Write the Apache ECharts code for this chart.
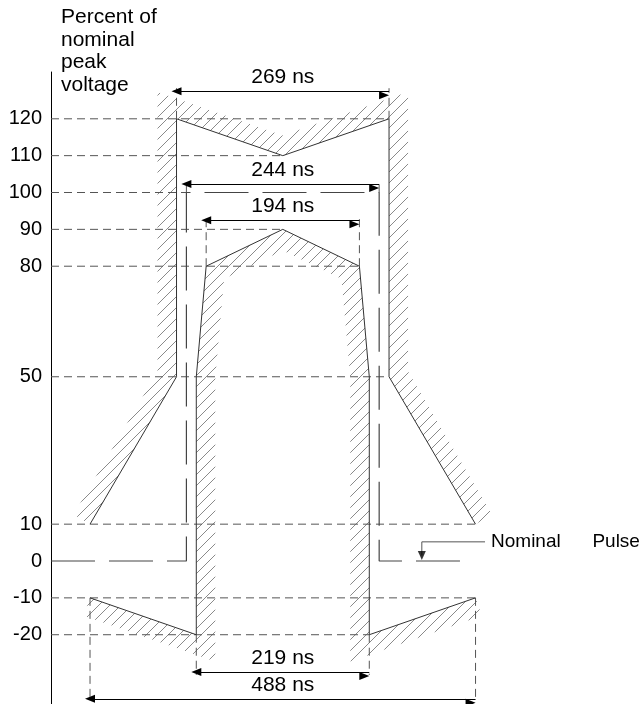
<!DOCTYPE html>
<html><head><meta charset="utf-8">
<script src="https://cdn.jsdelivr.net/npm/echarts@6/dist/echarts.min.js"></script>
<style>html,body{margin:0;padding:0;background:#fff}#c{width:642px;height:704px}</style>
</head><body><div id="c"></div>
<script>
// ---- data (time in ns, centred on the pulse; amplitude in % of nominal peak) ----
const yTickValues = [120, 110, 100, 90, 80, 50, 10, 0, -10, -20];
const dimLabels = ['269 ns', '244 ns', '194 ns', '219 ns', '488 ns'];
const dimWidths = [269, 244, 194, 219, 488];
const dimLevels = [127.5, 102.3, 92.5, -30.1, -37.4];
const extFrom = [120, 100, 80, -20, -10];
const upperT = [-244, -134.5, -134.5, 0, 134.5, 134.5, 244];
const upperV = [10, 50, 120, 110, 120, 50, 10];
const lowerT = [-244, -109.5, -109.5, -97, 0, 97, 109.5, 109.5, 244];
const lowerV = [-10, -20, 50, 80, 90, 80, 50, -20, -10];
const pulseT = [-293.4, -122, -122, 122, 122, 232];
const pulseV = [0, 0, 100, 100, 0, 0];
const guideLevels = [120, 110, 100, 90, 80, 50, 10, -10, -20];
const guideEnds = [134.5, 0, -122, 0, 97, 134.5, 244, 244, 109.5];
const leaderT = [256, 176, 176];
const leaderV = [5.2, 5.2, 1.5];
const pulseLabel = 'Nominal      Pulse';
const yTitle = 'Percent of\nnominal\npeak\nvoltage';
const xRange = [-293.4, 454.7];
const yRange = [-38.8, 132.7];

const FONT = 'Liberation Sans, Arial, Helvetica, sans-serif';

function makeHatch() {
  const s = 11, c = document.createElement('canvas');
  c.width = s; c.height = s;
  const g = c.getContext('2d');
  g.strokeStyle = '#8a8a8a'; g.lineWidth = 1;
  g.beginPath();
  g.moveTo(0, s); g.lineTo(s, 0);
  g.moveTo(-2, 2); g.lineTo(2, -2);
  g.moveTo(s - 2, s + 2); g.lineTo(s + 2, s - 2);
  g.stroke();
  return c;
}
const hatch = makeHatch();

function offsetLine(pts, side, w) {
  const n = [];
  for (let i = 0; i < pts.length - 1; i++) {
    const dx = pts[i + 1][0] - pts[i][0], dy = pts[i + 1][1] - pts[i][1];
    const L = Math.hypot(dx, dy) || 1;
    n.push([side * dy / L, -side * dx / L]);
  }
  return pts.map((p, j) => {
    let m, k = w;
    if (j === 0) m = n[0];
    else if (j === pts.length - 1) m = n[n.length - 1];
    else {
      const a = n[j - 1], b = n[j];
      const mx = a[0] + b[0], my = a[1] + b[1];
      const L = Math.hypot(mx, my) || 1;
      m = [mx / L, my / L];
      const d = m[0] * b[0] + m[1] * b[1];
      k = w / Math.max(d, 0.3);
    }
    return [p[0] + m[0] * k, p[1] + m[1] * k];
  });
}

const series = [];

// hatched keep-out bands
series.push({
  type: 'custom', silent: true, clip: false, z: 1,
  data: [[0, 0], [1, 0]],
  renderItem: function (params, api) {
    const up = params.dataIndex === 0;
    const T = up ? upperT : lowerT, V = up ? upperV : lowerV;
    const pts = T.map((t, i) => api.coord([t, V[i]]));
    const off = offsetLine(pts, up ? 1 : -1, 19);
    return {
      type: 'polygon',
      shape: { points: pts.concat(off.slice().reverse()) },
      style: { fill: { image: hatch, repeat: 'repeat' }, stroke: null, lineWidth: 0 }
    };
  }
});

// guide lines (short dashes)
guideLevels.forEach((v, i) => {
  series.push({
    type: 'line', silent: true, symbol: 'none', z: 2,
    data: [[xRange[0], v], [guideEnds[i], v]],
    lineStyle: { color: '#555', width: 1, type: [8, 5] }
  });
});
// extension lines for the dimensions
dimWidths.forEach((w, i) => {
  const end = dimLevels[i] + (dimLevels[i] > 0 ? 0.8 : -0.8);
  [-1, 1].forEach(s => {
    series.push({
      type: 'line', silent: true, symbol: 'none', z: 2,
      data: [[s * w / 2, extFrom[i]], [s * w / 2, end]],
      lineStyle: { color: '#555', width: 1, type: [8, 5] }
    });
  });
});

// mask outlines
[[upperT, upperV], [lowerT, lowerV]].forEach(([T, V]) => {
  series.push({
    type: 'line', silent: true, symbol: 'none', z: 3,
    data: T.map((t, i) => [t, V[i]]),
    lineStyle: { color: '#333', width: 1 }
  });
});

// nominal pulse (long dashes)
series.push({
  type: 'line', silent: true, symbol: 'none', z: 3,
  data: pulseT.map((t, i) => [t, pulseV[i]]),
  lineStyle: { color: '#444', width: 1.2, type: [44, 14] }
});

// dimension arrows
series.push({
  type: 'line', silent: true, symbol: 'none', z: 4, data: [],
  markLine: {
    silent: true, animation: false,
    symbol: ['triangle', 'triangle'], symbolSize: [8, 10], symbolOffset: [0, '50%'],
    lineStyle: { color: '#000', width: 1, type: 'solid' },
    emphasis: { disabled: true },
    label: {
      show: true, position: 'insideMiddleTop', distance: 3, formatter: '{b}',
      color: '#000', fontSize: 21, fontFamily: FONT
    },
    data: dimLabels.map((lab, i) => [
      { coord: [-dimWidths[i] / 2, dimLevels[i]], name: lab },
      { coord: [dimWidths[i] / 2, dimLevels[i]] }
    ])
  }
});

// leader for "Nominal Pulse"
series.push({
  type: 'line', silent: true, symbol: 'none', z: 4,
  data: leaderT.map((t, i) => [t, leaderV[i]]),
  lineStyle: { color: '#555', width: 1 }
});
series.push({
  type: 'scatter', silent: true, z: 5,
  symbol: 'triangle', symbolRotate: 180, symbolSize: [8, 9],
  itemStyle: { color: '#000' },
  data: [[leaderT[2], leaderV[2]]]
});
series.push({
  type: 'scatter', silent: true, z: 5, symbolSize: 0,
  itemStyle: { color: '#000', opacity: 1 },
  data: [[leaderT[0], leaderV[0]]],
  label: {
    show: true, position: 'right', distance: 6, formatter: pulseLabel,
    color: '#000', opacity: 1, fontSize: 19, fontFamily: FONT
  }
});

const chart = echarts.init(document.getElementById('c'), null, { renderer: 'canvas' });
chart.setOption({
  animation: false,
  backgroundColor: '#fff',
  title: {
    text: yTitle, left: 61, top: 6, padding: 0,
    textStyle: { fontSize: 21, fontWeight: 'normal', color: '#000', lineHeight: 22.5, fontFamily: FONT }
  },
  grid: { left: 51, right: 0, top: 72, bottom: 0, outerBoundsMode: 'none' },
  xAxis: {
    type: 'value', min: xRange[0], max: xRange[1], show: false, splitLine: { show: false }
  },
  yAxis: {
    type: 'value', min: yRange[0], max: yRange[1],
    axisLine: { show: true, onZero: false, lineStyle: { color: '#000', width: 1 } },
    axisTick: { show: false },
    splitLine: { show: false },
    axisLabel: {
      customValues: yTickValues, margin: 9, color: '#000', fontSize: 20, fontFamily: FONT,
      showMinLabel: true, showMaxLabel: true
    }
  },
  series: series
});
</script></body></html>
